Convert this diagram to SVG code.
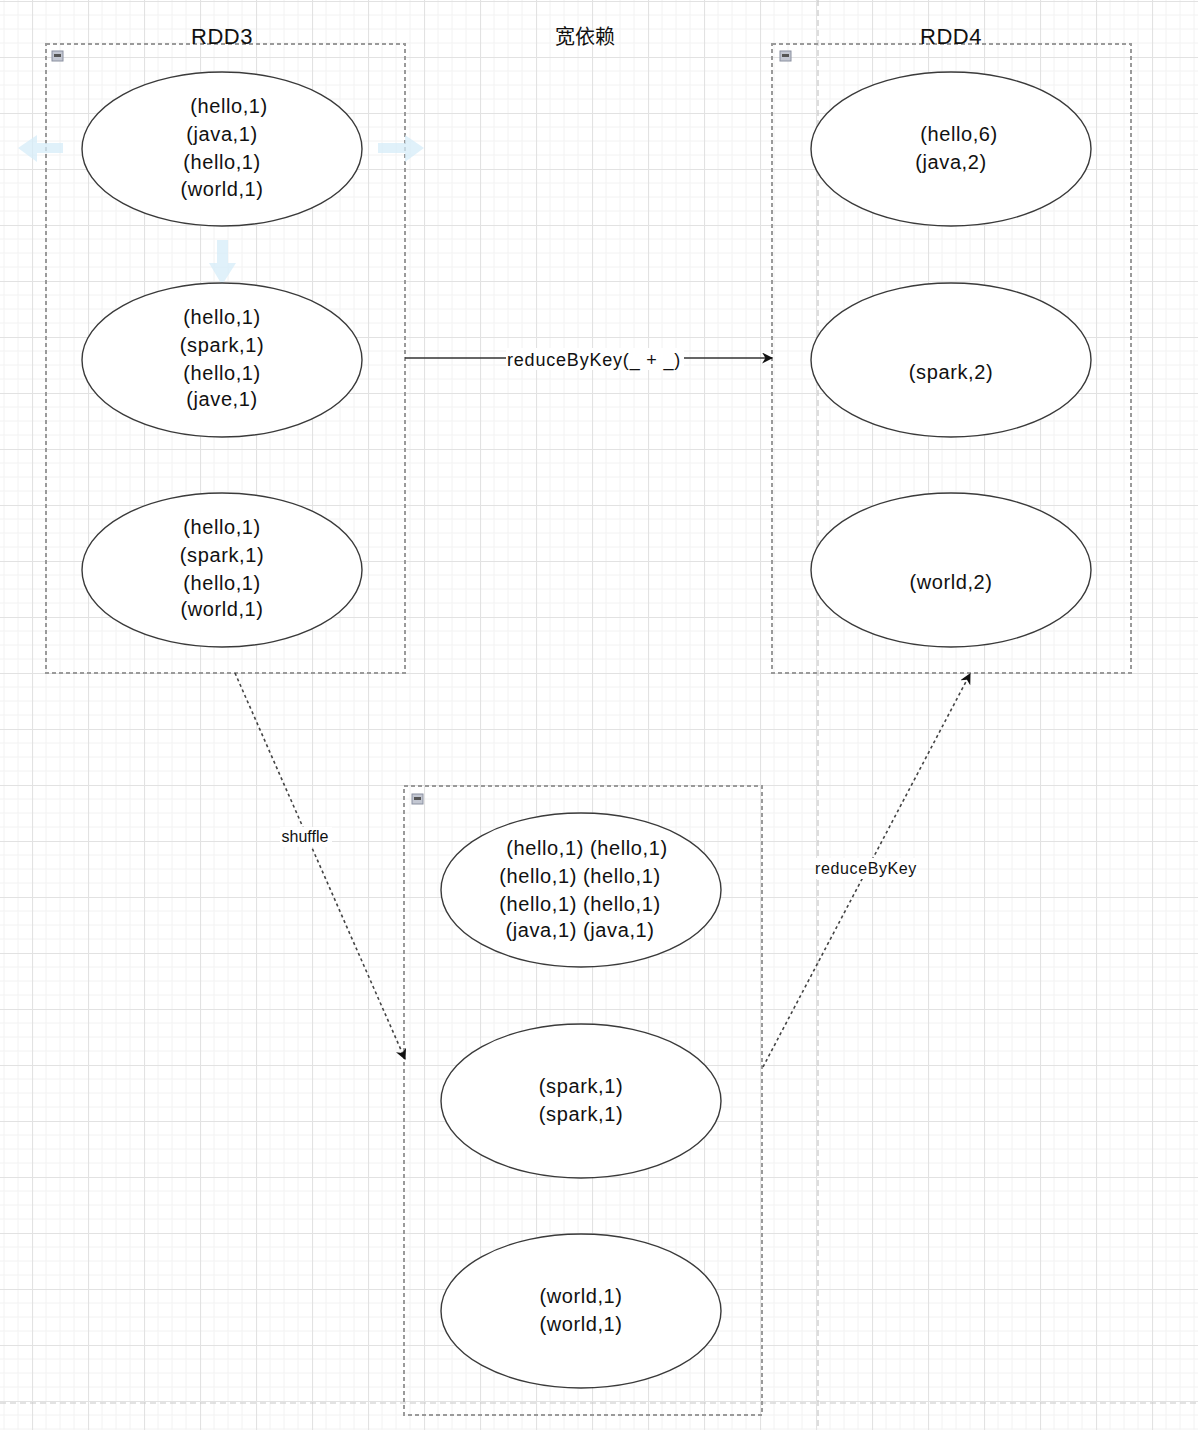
<svg xmlns="http://www.w3.org/2000/svg" width="1198" height="1430" viewBox="0 0 1198 1430">
<style>
.cont{fill:none;stroke:#9a9a9a;stroke-width:2;stroke-dasharray:4 3}
.ell{fill:#fff;stroke:#3a3a3a;stroke-width:1.4}
.t{font-family:"Liberation Sans",Arial,sans-serif;font-size:20px;letter-spacing:0.6px;fill:#111;text-anchor:middle}
.title{font-family:"Liberation Sans",Arial,sans-serif;font-size:22px;letter-spacing:0.5px;fill:#111;text-anchor:middle}
.lbl{font-family:"Liberation Sans",Arial,sans-serif;fill:#111;text-anchor:middle}
.dot{fill:none;stroke:#444;stroke-width:1.6;stroke-dasharray:3 3}
.pb{stroke:#c8c8c8;stroke-width:1.2;stroke-dasharray:6 4}
.hint{fill:#d6ecf8;opacity:0.75}
.icon{fill:#c3c7d2;stroke:#8a90a0;stroke-width:1}
.iconm{fill:#555}
</style>
<defs>
<pattern id="grid" x="32" y="1" width="56" height="56" patternUnits="userSpaceOnUse">
<path d="M14 0V56M28 0V56M42 0V56M0 14H56M0 28H56M0 42H56" stroke="#f2f2f2" stroke-width="1"/>
<path d="M0.5 0V56M0 0.5H56" stroke="#e2e2e2" stroke-width="1.2"/>
</pattern>
<marker id="arr" viewBox="0 0 10 10" refX="9" refY="5" markerWidth="11" markerHeight="11" markerUnits="userSpaceOnUse" orient="auto">
<path d="M0 0L10 5L0 10L3 5Z" fill="#111"/>
</marker>
</defs>
<rect width="1198" height="1430" fill="#fff"/>
<rect width="1198" height="1430" fill="url(#grid)"/>
<line class="pb" x1="818" y1="0" x2="818" y2="1430"/>
<line class="pb" x1="0" y1="1403" x2="1198" y2="1403"/>

<g id="title-widedep"><text class="lbl" x="585" y="44" style="font-family:'Liberation Sans','Noto Sans CJK SC',sans-serif;font-size:20px">宽依赖</text></g>

<g id="rdd3">
<rect class="cont" x="46" y="44" width="359" height="629"/>
<text class="title" x="222" y="44">RDD3</text>
<rect class="icon" x="52" y="51" width="11" height="10"/><rect class="iconm" x="54" y="54" width="7" height="3"/>
</g>
<g id="rdd4">
<rect class="cont" x="772" y="44" width="359" height="629"/>
<text class="title" x="951" y="44">RDD4</text>
<rect class="icon" x="780" y="51" width="11" height="10"/><rect class="iconm" x="782" y="54" width="7" height="3"/>
</g>
<g id="shuffled">
<rect class="cont" x="404" y="786" width="358" height="629"/>
<rect class="icon" x="412" y="794" width="11" height="10"/><rect class="iconm" x="414" y="797" width="7" height="3"/>
</g>

<g id="hints">
<path class="hint" d="M63 143H37V135L18 148L37 162V153H63Z"/>
<path class="hint" d="M378 143H405V135L424 148L405 162V153H378Z"/>
<path class="hint" d="M217 240V263H209L222 285L236 263H228V240Z"/>
</g>

<g id="rdd3-p1">
<ellipse class="ell" cx="222" cy="149" rx="140" ry="77"/>
<text class="t" x="229" y="113">(hello,1)</text>
<text class="t" x="222" y="141">(java,1)</text>
<text class="t" x="222" y="169">(hello,1)</text>
<text class="t" x="222" y="196">(world,1)</text>
</g>
<g id="rdd3-p2">
<ellipse class="ell" cx="222" cy="360" rx="140" ry="77"/>
<text class="t" x="222" y="324">(hello,1)</text>
<text class="t" x="222" y="352">(spark,1)</text>
<text class="t" x="222" y="380">(hello,1)</text>
<text class="t" x="222" y="406">(jave,1)</text>
</g>
<g id="rdd3-p3">
<ellipse class="ell" cx="222" cy="570" rx="140" ry="77"/>
<text class="t" x="222" y="534">(hello,1)</text>
<text class="t" x="222" y="562">(spark,1)</text>
<text class="t" x="222" y="590">(hello,1)</text>
<text class="t" x="222" y="616">(world,1)</text>
</g>

<g id="rdd4-p1">
<ellipse class="ell" cx="951" cy="149" rx="140" ry="77"/>
<text class="t" x="959" y="141">(hello,6)</text>
<text class="t" x="951" y="169">(java,2)</text>
</g>
<g id="rdd4-p2">
<ellipse class="ell" cx="951" cy="360" rx="140" ry="77"/>
<text class="t" x="951" y="379">(spark,2)</text>
</g>
<g id="rdd4-p3">
<ellipse class="ell" cx="951" cy="570" rx="140" ry="77"/>
<text class="t" x="951" y="589">(world,2)</text>
</g>

<g id="mid-p1">
<ellipse class="ell" cx="581" cy="890" rx="140" ry="77"/>
<text class="t" x="587" y="855">(hello,1) (hello,1)</text>
<text class="t" x="580" y="883">(hello,1) (hello,1)</text>
<text class="t" x="580" y="911">(hello,1) (hello,1)</text>
<text class="t" x="580" y="937">(java,1) (java,1)</text>
</g>
<g id="mid-p2">
<ellipse class="ell" cx="581" cy="1101" rx="140" ry="77"/>
<text class="t" x="581" y="1093">(spark,1)</text>
<text class="t" x="581" y="1121">(spark,1)</text>
</g>
<g id="mid-p3">
<ellipse class="ell" cx="581" cy="1311" rx="140" ry="77"/>
<text class="t" x="581" y="1303">(world,1)</text>
<text class="t" x="581" y="1331">(world,1)</text>
</g>

<g id="connectors">
<line x1="405" y1="358" x2="772" y2="358" stroke="#333" stroke-width="1.5" marker-end="url(#arr)"/>
<rect x="506" y="348" width="178" height="22" fill="#fff"/>
<text class="lbl" x="594" y="366" style="font-size:18px;letter-spacing:0.8px">reduceByKey(_ + _)</text>

<line class="dot" x1="235" y1="673" x2="405" y2="1059" marker-end="url(#arr)"/>
<rect x="280" y="827" width="52" height="20" fill="#fff"/>
<text class="lbl" x="305" y="842" style="font-size:16px">shuffle</text>

<line class="dot" x1="763" y1="1067" x2="970" y2="674" marker-end="url(#arr)"/>
<rect x="815" y="858" width="102" height="21" fill="#fff"/>
<text class="lbl" x="866" y="874" style="font-size:16px;letter-spacing:0.6px">reduceByKey</text>
</g>
</svg>
